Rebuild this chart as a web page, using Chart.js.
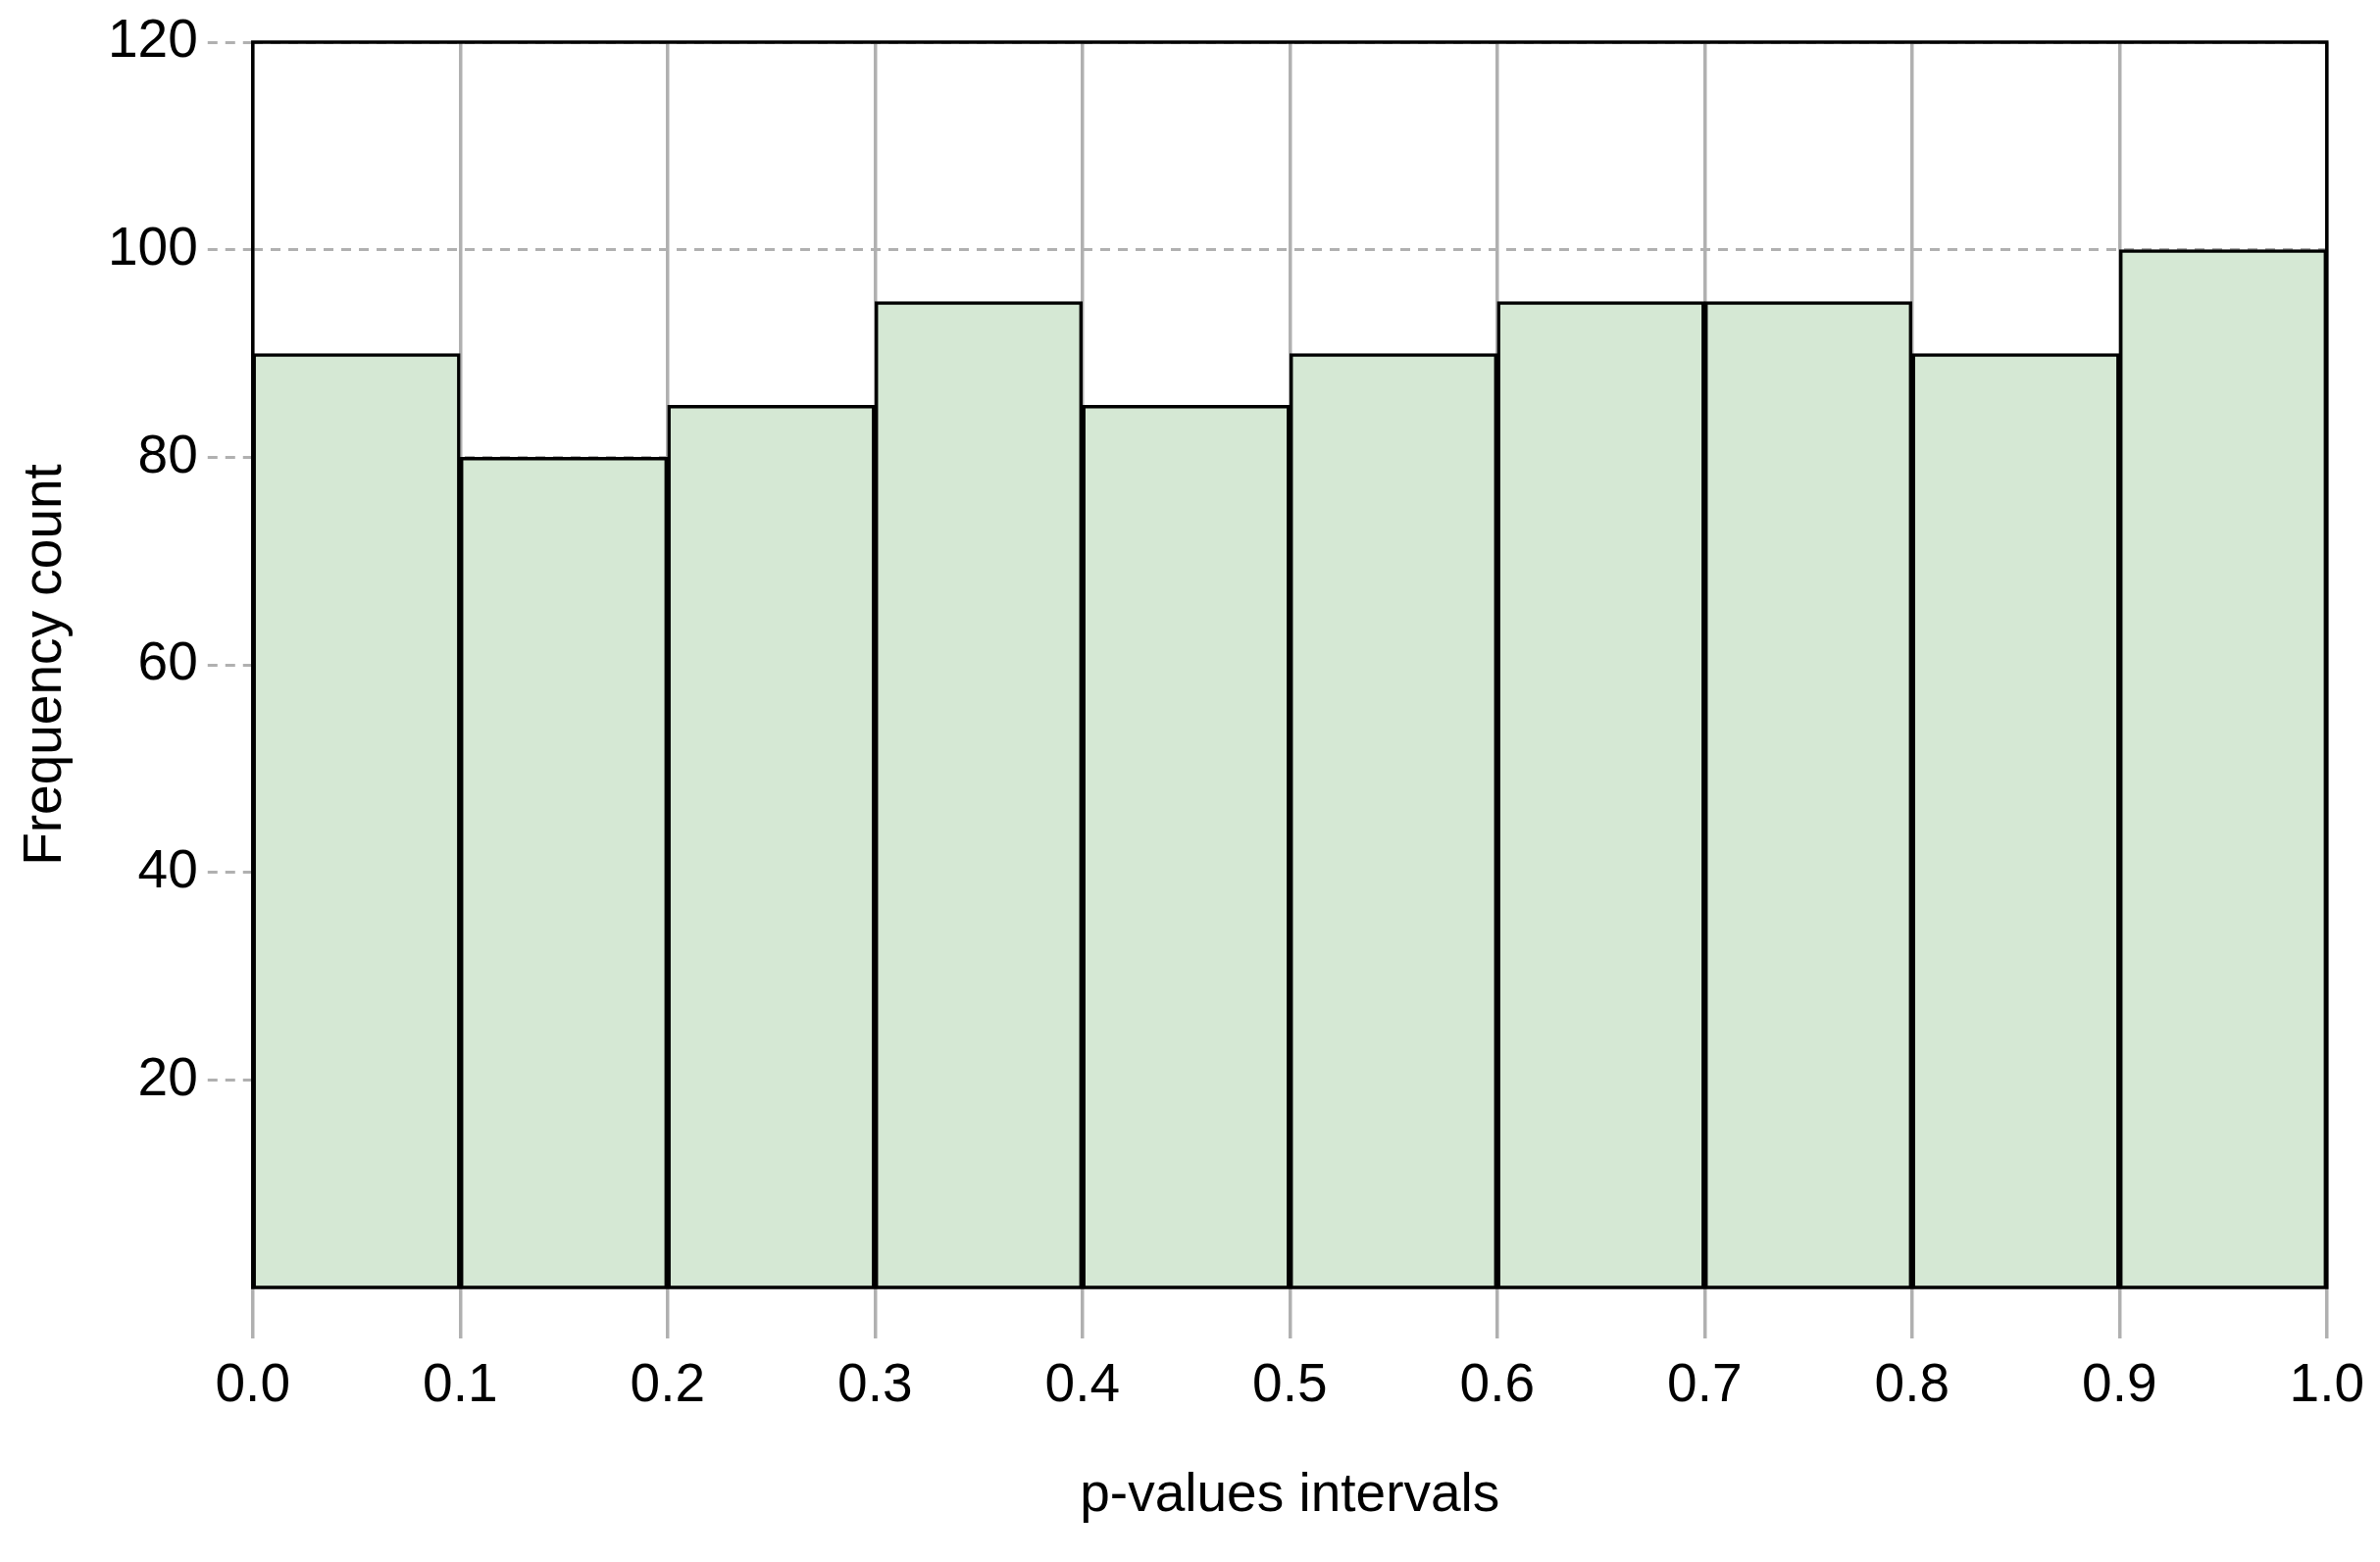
<!DOCTYPE html>
<html><head><meta charset="utf-8">
<script src="https://cdn.jsdelivr.net/npm/chart.js@4"></script>
<style>html,body{margin:0;padding:0;background:#fff}#w{width:2427px;height:1593px}</style>
</head><body><div id="w"><canvas id="c"></canvas></div>
<script>
const binCenters=[0.05,0.15,0.25,0.35,0.45,0.55,0.65,0.75,0.85,0.95];
const counts=[90,80,85,95,85,90,95,95,90,100];
const yTicks=[20,40,60,80,100,120];
const xTickLabels=['0.0','0.1','0.2','0.3','0.4','0.5','0.6','0.7','0.8','0.9','1.0'];
const frame={id:'frame',afterDraw(ch){const a=ch.chartArea,c=ch.ctx;c.save();c.strokeStyle='#000';c.lineWidth=3.5;c.strokeRect(a.left,a.top,a.right-a.left,a.bottom-a.top);c.restore();}};
const F='"Liberation Sans", Arial, sans-serif';
new Chart(document.getElementById('c'),{
type:'bar',
data:{datasets:[{data:binCenters.map((x,i)=>({x,y:counts[i]})),backgroundColor:'#d5e8d4',borderColor:'#000',borderWidth:3.5,barPercentage:1,categoryPercentage:1,grouped:false}]},
options:{responsive:true,maintainAspectRatio:false,animation:false,
layout:{padding:{top:38,right:42,left:10,bottom:30}},
plugins:{legend:{display:false},tooltip:{enabled:false}},
scales:{
x:{type:'linear',min:0,max:1,offset:false,
 ticks:{stepSize:0.1,font:{family:F,size:55},color:'#000',padding:16,callback:(v)=>xTickLabels[Math.round(v*10)]},
 grid:{offset:false,color:'#b0b0b0',lineWidth:3.5,tickLength:52},border:{display:false},
 title:{display:true,text:'p-values intervals',font:{family:F,size:55},color:'#000',padding:{top:30}}},
y:{min:0,max:120,
 afterBuildTicks:(s)=>{s.ticks=yTicks.map(v=>({value:v}));},
 ticks:{font:{family:F,size:55},color:'#000',padding:10},
 grid:{color:'#b0b0b0',lineWidth:3,tickLength:46,tickBorderDash:[10,8]},border:{display:false,dash:[10,8]},
 title:{display:true,text:'Frequency count',font:{family:F,size:55},color:'#000',padding:{bottom:20}}}
}},
plugins:[frame]
});
</script></body></html>
